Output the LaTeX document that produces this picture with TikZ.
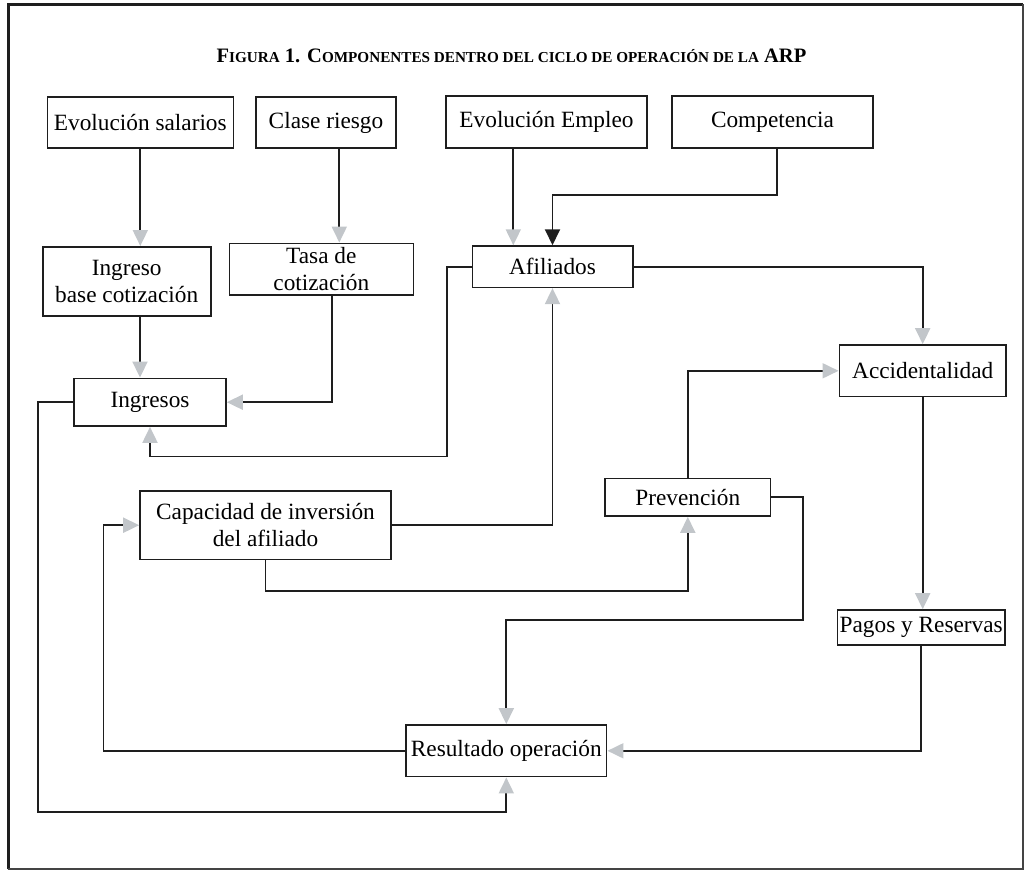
\documentclass[tikz,border=0pt]{standalone}
\usepackage{fontspec}
\setmainfont{Liberation Serif}
\usetikzlibrary{arrows.meta}
\definecolor{linecol}{HTML}{1E1E1E}
\definecolor{arrgray}{HTML}{C2C6CA}
\definecolor{framegray}{HTML}{444444}
\begin{document}
\begin{tikzpicture}[x=1pt,y=-1pt,
  box/.style={draw=linecol, line width=1.6pt, inner sep=0pt, align=center,
    font=\fontsize{23.3}{26.5}\selectfont},
  garr/.style={draw=linecol, line width=1.9pt, -{Triangle[length=16pt,width=15pt,color=arrgray]}},
  barr/.style={draw=linecol, line width=1.9pt, -{Triangle[length=16pt,width=15pt]}},
  ttl/.style={inner sep=0pt, font=\fontsize{20.5}{24}\selectfont\bfseries}]
\useasboundingbox (0,0) rectangle (1026,871);
% frame
\draw[line width=3pt, linecol] (8,869) -- (8,4) -- (1023,4);
\draw[line width=1.8pt, framegray] (1023,4) -- (1023,869) -- (8,869);
% title
\node[ttl] (title) at (511.5,56) {F{\fontsize{15.2}{18}\selectfont IGURA} 1. C{\fontsize{15.2}{18}\selectfont OMPONENTES DENTRO DEL CICLO DE OPERACIÓN DE LA} ARP};
% nodes
\node[box, minimum width=186pt, minimum height=51pt] (evs) at (140.3,122.5) {Evolución salarios};
\node[box, minimum width=140pt, minimum height=51pt] (cr) at (326,122.5) {Clase riesgo};
\node[box, minimum width=201pt, minimum height=52pt] (eve) at (546.5,122) {Evolución Empleo};
\node[box, minimum width=201pt, minimum height=52pt, line width=2.3pt] (comp) at (772.5,122) {Competencia};
\node[box, minimum width=168pt, minimum height=69pt] (ibc) at (126.7,281.3) {Ingreso\\base cotización};
\node[box, minimum width=184pt, minimum height=51.7pt] (tasa) at (321.3,269.2) {Tasa de\\cotización};
\node[box, minimum width=160.4pt, minimum height=41.3pt] (afi) at (552.5,266.7) {Afiliados};
\node[box, minimum width=152pt, minimum height=47.7pt] (ing) at (150,402.2) {Ingresos};
\node[box, minimum width=166.7pt, minimum height=51.7pt] (acc) at (922.7,370.8) {Accidentalidad};
\node[box, minimum width=165.7pt, minimum height=37.7pt] (prev) at (687.8,497.2) {Prevención};
\node[box, minimum width=251pt, minimum height=68.3pt] (cap) at (265.5,525.2) {Capacidad de inversión\\del afiliado};
\node[box, minimum width=167.7pt, minimum height=35pt] (pag) at (921.2,627.5) {Pagos y Reservas};
\node[box, minimum width=200.7pt, minimum height=51.7pt] (res) at (506.3,750.8) {Resultado operación};
% connectors
\draw[garr] (evs.south) -- (evs.south |- ibc.north);
\draw[garr] (339.3,0 |- cr.south) -- (339.3,0 |- tasa.north);
\draw[garr] (513.3,0 |- eve.south) -- (513.3,0 |- afi.north);
\draw[barr] (776.7,0 |- comp.south) -- (776.7,195) -- (afi.north |- 0,195) -- (afi.north);
\draw[garr] (140,0 |- ibc.south) -- (140,0 |- ing.north);
\draw[garr] (331.7,0 |- tasa.south) -- (331.7,0 |- ing.east) -- (ing.east);
\draw[garr] (afi.west) -- (447.3,0 |- afi.west) -- (447.3,456.5) -- (ing.south |- 0,456.5) -- (ing.south);
\draw[garr] (afi.east) -- (acc.north |- afi.east) -- (acc.north);
\draw[garr] (prev.north) -- (prev.north |- acc.west) -- (acc.west);
\draw[garr] (acc.south) -- (acc.south |- pag.north);
\draw[garr] (cap.east) -- (afi.south |- cap.east) -- (afi.south);
\draw[garr] (cap.south) -- (cap.south |- 0,591) -- (prev.south |- 0,591) -- (prev.south);
\draw[garr] (prev.east) -- (803.3,0 |- prev.east) -- (803.3,620) -- (res.north |- 0,620) -- (res.north);
\draw[garr] (pag.south) -- (pag.south |- res.east) -- (res.east);
\draw[garr] (res.west) -- (103.5,0 |- res.west) -- (103.5,0 |- cap.west) -- (cap.west);
\draw[garr] (ing.west) -- (38,0 |- ing.west) -- (38,812) -- (res.south |- 0,812) -- (res.south);
\end{tikzpicture}
\end{document}
